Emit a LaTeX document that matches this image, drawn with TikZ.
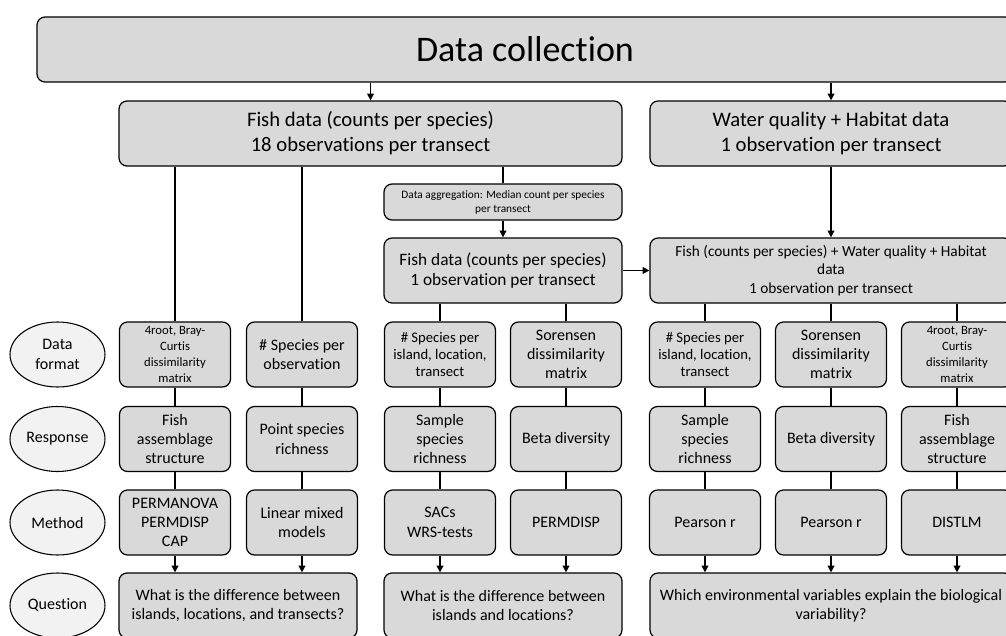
\documentclass[tikz,border=0pt]{standalone}
\usepackage{fontspec}
\setmainfont{Carlito}[Ligatures=NoCommon]
\usetikzlibrary{shapes.geometric,arrows.meta,positioning}

\begin{document}
\begin{tikzpicture}[x=0.75pt,y=-0.75pt,
  box/.style={draw=cline,fill=cbox,rectangle,rounded corners=6pt,line width=0.9pt,align=center,inner sep=1pt,minimum width=83.25pt,minimum height=48.75pt,font=\fontsize{12}{14.5}\selectfont},
  small/.style={font=\fontsize{9.5}{12}\selectfont},
  lbl/.style={draw=cline,fill=clbl,ellipse,line width=0.8pt,align=center,inner sep=0pt,minimum width=71.25pt,minimum height=48.75pt,font=\fontsize{12}{14.5}\selectfont},
  link/.style={draw=cline,line width=1pt},
  arr/.style={link,-{Triangle[length=5pt,width=5pt]}}]
%
\useasboundingbox (0,0) rectangle (1006,635);
%
\definecolor{cline}{rgb}{0.0,0.0,0.0}
\definecolor{cbox}{rgb}{0.85,0.85,0.85}
\definecolor{clbl}{rgb}{0.95,0.95,0.95}
%
\node[box,minimum width=732pt,font=\fontsize{27}{32}\selectfont] (dc) at (525,49.5) {Data collection};
\node[box,minimum width=377.25pt,font=\fontsize{15.5}{18.75}\selectfont] (fish18) at (370.5,133.5) {Fish data (counts per species)\\18 observations per transect};
\node[box,minimum width=271.5pt,font=\fontsize{15.5}{18.75}\selectfont] (wq) at (831,133.5) {Water quality + Habitat data\\1 observation per transect};
\node[box,minimum width=178.5pt,minimum height=27pt,font=\fontsize{8.5}{10.5}\selectfont] (agg) at (503,202) {Data aggregation: Median count per species\\per transect};
\node[box,minimum width=178.5pt,font=\fontsize{13}{15}\selectfont] (fish1) at (503,270.5) {Fish data (counts per species)\\1 observation per transect};
\node[box,minimum width=271.5pt,font=\fontsize{11.5}{13.75}\selectfont] (comb) at (831,270.5) {Fish (counts per species) + Water quality + Habitat\\data\\1 observation per transect};
%
\node[lbl] (lf) at (57.5,354.5) {Data\\format};
\node[lbl] (lr) at (57.5,439) {Response};
\node[lbl] (lm) at (57.5,522.5) {Method};
\node[lbl] (lq) at (57.5,605.5) {Question};
%
\node[box,small] (f1) at (175,354.5) {4root, Bray-\\Curtis\\dissimilarity\\matrix};
\node[box] (f2) at (302,354.5) {\# Species per\\observation};
\node[box,font=\fontsize{11}{13}\selectfont] (f3) at (440,354.5) {\# Species per\\island, location,\\transect};
\node[box] (f4) at (566,354.5) {Sorensen\\dissimilarity\\matrix};
\node[box,font=\fontsize{11}{13}\selectfont] (f5) at (705,354.5) {\# Species per\\island, location,\\transect};
\node[box] (f6) at (831,354.5) {Sorensen\\dissimilarity\\matrix};
\node[box,small] (f7) at (957,354.5) {4root, Bray-\\Curtis\\dissimilarity\\matrix};
%
\node[box] (r1) at (175,439) {Fish\\assemblage\\structure};
\node[box] (r2) at (302,439) {Point species\\richness};
\node[box] (r3) at (440,439) {Sample\\species\\richness};
\node[box] (r4) at (566,439) {Beta diversity};
\node[box] (r5) at (705,439) {Sample\\species\\richness};
\node[box] (r6) at (831,439) {Beta diversity};
\node[box] (r7) at (957,439) {Fish\\assemblage\\structure};
%
\node[box] (m1) at (175,522.5) {PERMANOVA\\PERMDISP\\CAP};
\node[box] (m2) at (302,522.5) {Linear mixed\\models};
\node[box] (m3) at (440,522.5) {SACs\\WRS-tests};
\node[box] (m4) at (566,522.5) {PERMDISP};
\node[box] (m5) at (705,522.5) {Pearson r};
\node[box] (m6) at (831,522.5) {Pearson r};
\node[box] (m7) at (957,522.5) {DISTLM};
%
\node[box,minimum width=178.5pt] (q1) at (238,605.5) {What is the difference between\\islands, locations, and transects?};
\node[box,minimum width=178.5pt] (q2) at (503,605.5) {What is the difference between\\islands and locations?};
\node[box,minimum width=271.5pt] (q3) at (831,605.5) {Which environmental variables explain the biological\\variability?};
%
\draw[arr] (dc.south -| fish18) -- (fish18);
\draw[arr] (dc.south -| wq) -- (wq);
\draw[link] (fish18.south -| agg) -- (agg);
\draw[arr] (agg) -- (fish1);
\draw[arr] (fish1) -- (comb);
\draw[arr] (wq) -- (comb);
%
\draw[link] (fish18.south -| f1) -- (f1);
\draw[link] (fish18.south -| f2) -- (f2);
\draw[link] (fish1.south -| f3) -- (f3);
\draw[link] (fish1.south -| f4) -- (f4);
\draw[link] (comb.south -| f5) -- (f5);
\draw[link] (comb.south -| f6) -- (f6);
\draw[link] (comb.south -| f7) -- (f7);
%
\draw[link] (f1) -- (r1);
\draw[link] (f2) -- (r2);
\draw[link] (f3) -- (r3);
\draw[link] (f4) -- (r4);
\draw[link] (f5) -- (r5);
\draw[link] (f6) -- (r6);
\draw[link] (f7) -- (r7);
%
\draw[link] (r1) -- (m1);
\draw[link] (r2) -- (m2);
\draw[link] (r3) -- (m3);
\draw[link] (r4) -- (m4);
\draw[link] (r5) -- (m5);
\draw[link] (r6) -- (m6);
\draw[link] (r7) -- (m7);
%
\draw[arr] (m1) -- (m1 |- q1.north);
\draw[arr] (m2) -- (m2 |- q1.north);
\draw[arr] (m3) -- (m3 |- q2.north);
\draw[arr] (m4) -- (m4 |- q2.north);
\draw[arr] (m5) -- (m5 |- q3.north);
\draw[arr] (m6) -- (m6 |- q3.north);
\draw[arr] (m7) -- (m7 |- q3.north);
%
\end{tikzpicture}
\end{document}
